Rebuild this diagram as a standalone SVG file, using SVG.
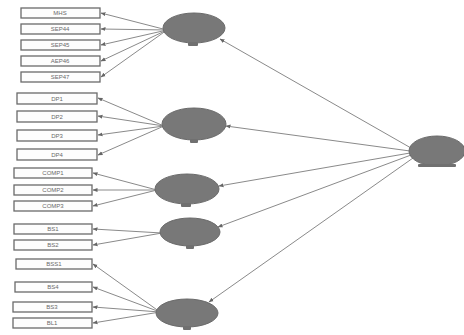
<svg xmlns="http://www.w3.org/2000/svg" width="464" height="335" viewBox="0 0 464 335">
<defs>
<marker id="ah" viewBox="0 0 10 10" refX="9" refY="5" markerWidth="5" markerHeight="5" orient="auto">
<path d="M0,1 L10,5 L0,9 z" fill="#666"/>
</marker>
</defs>
<style>
.box{fill:#fdfdfd;stroke:#6a6a6a;stroke-width:1.3}
.lat{fill:#787878;stroke:#6a6a6a;stroke-width:1}
.tab{fill:#707070}
.lbl{font-family:"Liberation Sans",Arial,sans-serif;font-size:6px;fill:#6a6a6a;text-anchor:middle}
.c{stroke:#8a8a8a;stroke-width:1;fill:none;marker-end:url(#ah)}
</style>
<rect width="464" height="335" fill="#ffffff"/>
<g id="connectors">
<line class="c" x1="167" y1="30" x2="101" y2="13"/>
<line class="c" x1="167" y1="30" x2="101" y2="29"/>
<line class="c" x1="167" y1="30" x2="101" y2="45"/>
<line class="c" x1="167" y1="30" x2="101" y2="61"/>
<line class="c" x1="167" y1="30" x2="101" y2="77"/>
<line class="c" x1="164" y1="126" x2="98" y2="98"/>
<line class="c" x1="164" y1="126" x2="98" y2="116"/>
<line class="c" x1="164" y1="126" x2="98" y2="135"/>
<line class="c" x1="164" y1="126" x2="98" y2="155"/>
<line class="c" x1="157" y1="190" x2="93" y2="173"/>
<line class="c" x1="157" y1="190" x2="93" y2="190"/>
<line class="c" x1="157" y1="190" x2="93" y2="206"/>
<line class="c" x1="162" y1="233" x2="93" y2="229"/>
<line class="c" x1="162" y1="233" x2="93" y2="245"/>
<line class="c" x1="160" y1="312" x2="93" y2="264"/>
<line class="c" x1="160" y1="312" x2="93" y2="287"/>
<line class="c" x1="160" y1="312" x2="93" y2="307"/>
<line class="c" x1="160" y1="312" x2="93" y2="323"/>
<line class="c" x1="411" y1="148" x2="220" y2="39"/>
<line class="c" x1="410" y1="151" x2="226" y2="126"/>
<line class="c" x1="410" y1="153" x2="219" y2="186"/>
<line class="c" x1="411" y1="155" x2="218" y2="227"/>
<line class="c" x1="413" y1="158" x2="209" y2="302"/>
</g>
<g id="MHS"><rect class="box" x="21" y="8" width="79" height="10"/><text class="lbl" x="60" y="15">MHS</text></g>
<g id="SEP44"><rect class="box" x="21" y="24" width="79" height="10"/><text class="lbl" x="60" y="31">SEP44</text></g>
<g id="SEP45"><rect class="box" x="21" y="40" width="79" height="10"/><text class="lbl" x="60" y="47">SEP45</text></g>
<g id="AEP46"><rect class="box" x="21" y="56" width="79" height="10"/><text class="lbl" x="60" y="63">AEP46</text></g>
<g id="SEP47"><rect class="box" x="21" y="72" width="79" height="10"/><text class="lbl" x="60" y="79">SEP47</text></g>
<g id="DP1"><rect class="box" x="17" y="93" width="80" height="11"/><text class="lbl" x="57" y="100.5">DP1</text></g>
<g id="DP2"><rect class="box" x="17" y="111" width="80" height="11"/><text class="lbl" x="57" y="118.5">DP2</text></g>
<g id="DP3"><rect class="box" x="17" y="130" width="80" height="11"/><text class="lbl" x="57" y="137.5">DP3</text></g>
<g id="DP4"><rect class="box" x="17" y="149" width="80" height="11"/><text class="lbl" x="57" y="156.5">DP4</text></g>
<g id="COMP1"><rect class="box" x="14" y="168" width="78" height="10"/><text class="lbl" x="53" y="175">COMP1</text></g>
<g id="COMP2"><rect class="box" x="14" y="185" width="78" height="10"/><text class="lbl" x="53" y="192">COMP2</text></g>
<g id="COMP3"><rect class="box" x="14" y="201" width="78" height="10"/><text class="lbl" x="53" y="208">COMP3</text></g>
<g id="BS1"><rect class="box" x="14" y="224" width="78" height="10"/><text class="lbl" x="53" y="231">BS1</text></g>
<g id="BS2"><rect class="box" x="14" y="240" width="78" height="10"/><text class="lbl" x="53" y="247">BS2</text></g>
<g id="BSS1"><rect class="box" x="16" y="259" width="76" height="10"/><text class="lbl" x="54" y="266">BSS1</text></g>
<g id="BS4"><rect class="box" x="15" y="282" width="77" height="10"/><text class="lbl" x="53" y="289">BS4</text></g>
<g id="BS3"><rect class="box" x="13" y="302" width="79" height="10"/><text class="lbl" x="52" y="309">BS3</text></g>
<g id="BL1"><rect class="box" x="13" y="318" width="79" height="10"/><text class="lbl" x="52" y="325">BL1</text></g>
<g id="F1"><ellipse class="lat" cx="194" cy="28" rx="31" ry="15"/><rect class="tab" x="188" y="42" width="10" height="4" rx="1"/></g>
<g id="F2"><ellipse class="lat" cx="194" cy="124" rx="32" ry="16"/><rect class="tab" x="190" y="139" width="8" height="4" rx="1"/></g>
<g id="F3"><ellipse class="lat" cx="187" cy="189" rx="32" ry="15"/><rect class="tab" x="181" y="203" width="10" height="4" rx="1"/></g>
<g id="F4"><ellipse class="lat" cx="190" cy="232" rx="30" ry="14"/><rect class="tab" x="186" y="245" width="8" height="4" rx="1"/></g>
<g id="F5"><ellipse class="lat" cx="187" cy="313" rx="31" ry="14"/><rect class="tab" x="183" y="326" width="8" height="4" rx="1"/></g>
<g id="G"><ellipse class="lat" cx="437" cy="151" rx="28" ry="15"/><rect class="tab" x="418" y="164" width="38" height="3" rx="1"/></g>
</svg>
